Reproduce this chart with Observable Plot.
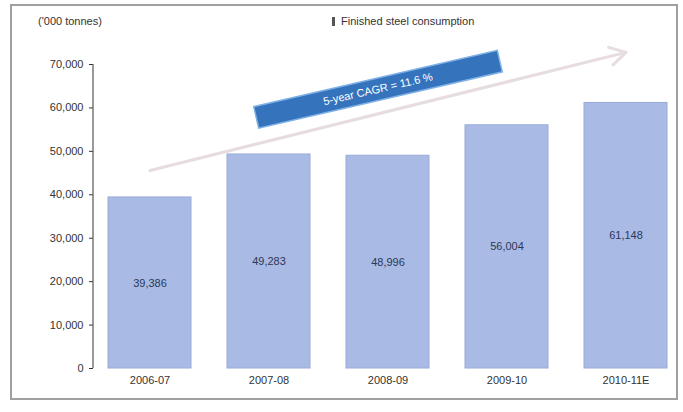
<!DOCTYPE html>
<html>
<head>
<meta charset="utf-8">
<script src="https://cdn.jsdelivr.net/npm/d3@7"></script>
<script src="https://cdn.jsdelivr.net/npm/@observablehq/plot@0.6"></script>
<style>
  html, body { margin: 0; padding: 0; background: #fff; }
  body { width: 683px; height: 412px; position: relative; font-family: "Liberation Sans", Arial, sans-serif; }
  #frame { position: absolute; left: 10px; top: 4px; width: 664px; height: 392px; border: 2px solid #a0a0a0; background: #fff; }
  #header { position: relative; height: 34px; font-size: 11px; color: #333; }
  #unit { position: absolute; left: 26px; top: 9px; }
  #title { position: absolute; left: 320px; top: 9px; }
  #title .sw { display: inline-block; width: 3px; height: 9px; background: #555; margin-right: 6px; vertical-align: -1px; }
  #chart svg { display: block; }
</style>
</head>
<body>
<div id="frame">
  <div id="header"><span id="unit">('000 tonnes)</span><span id="title"><span class="sw"></span>Finished steel consumption</span></div>
  <div id="chart"></div>
</div>
<script>
const categories = ["2006-07", "2007-08", "2008-09", "2009-10", "2010-11E"];
const consumption = [39386, 49283, 48996, 56004, 61148];
const valueLabels = ["39,386", "49,283", "48,996", "56,004", "61,148"];
const yTicks = [0, 10000, 20000, 30000, 40000, 50000, 60000, 70000];
const trendFrom = { cat: "2006-07", value: 45600 };
const trendTo = { cat: "2010-11E", value: 72800 };
const cagrNote = { cat: "2008-09", value: 64300, text: "5-year CAGR = 11.6 %" };

const data = categories.map((c, i) => ({ cat: c, value: consumption[i], label: valueLabels[i] }));

const boxSymbol = {
  draw(ctx) {
    const w = 250, h = 22;
    ctx.moveTo(-w / 2, -h / 2);
    ctx.lineTo(w / 2, -h / 2);
    ctx.lineTo(w / 2, h / 2);
    ctx.lineTo(-w / 2, h / 2);
    ctx.closePath();
  }
};

const chart = Plot.plot({
  width: 664,
  height: 358,
  marginTop: 24,
  marginBottom: 30,
  marginLeft: 81,
  marginRight: 0,
  style: { fontFamily: "Liberation Sans, Arial, sans-serif", fontSize: "11px", color: "#333", background: "#fff" },
  x: { domain: categories, range: [81, 665], paddingInner: 0.3, paddingOuter: 0.1, align: 0.6, label: null },
  y: { domain: [0, 70000], label: null },
  marks: [
    Plot.axisY({ ticks: yTicks, tickFormat: d => d3.format(",")(d), tickSize: 4, tickPadding: 6, fontSize: 11 }),
    Plot.axisX({ tickSize: 0, tickPadding: 8, fontSize: 11 }),
    Plot.barY(data, { x: "cat", y: "value", fill: "#a9bbe5", stroke: "#9aaad8", strokeWidth: 1 }),
    Plot.text(data, { x: "cat", y: d => d.value / 2, text: "label", fill: "#2d3757", fontSize: 11 }),
    Plot.arrow([{ a: trendFrom, b: trendTo }], {
      x1: d => d.a.cat, y1: d => d.a.value, x2: d => d.b.cat, y2: d => d.b.value,
      stroke: "#e6dce1", strokeWidth: 3, headLength: 9, clip: false
    }),
    Plot.dot([cagrNote], { x: "cat", y: "value", dx: -10, symbol: boxSymbol, r: 10, fill: "#3574bd", stroke: "#7fb0e6", strokeWidth: 1.5, rotate: -13 }),
    Plot.text([cagrNote], { x: "cat", y: "value", dx: -10, text: "text", rotate: -13, fill: "#fff", fontSize: 11 })
  ]
});

// y axis line drawn through the chart's own y scale
const yScale = chart.scale("y");
const yFn = d3.scaleLinear().domain(yScale.domain).range(yScale.range);
d3.select(chart).append("line")
  .attr("x1", 81).attr("x2", 81)
  .attr("y1", yFn(yTicks[yTicks.length - 1])).attr("y2", yFn(yTicks[0]))
  .attr("stroke", "#555").attr("stroke-width", 1.2);
document.getElementById("chart").appendChild(chart);
</script>
</body>
</html>
